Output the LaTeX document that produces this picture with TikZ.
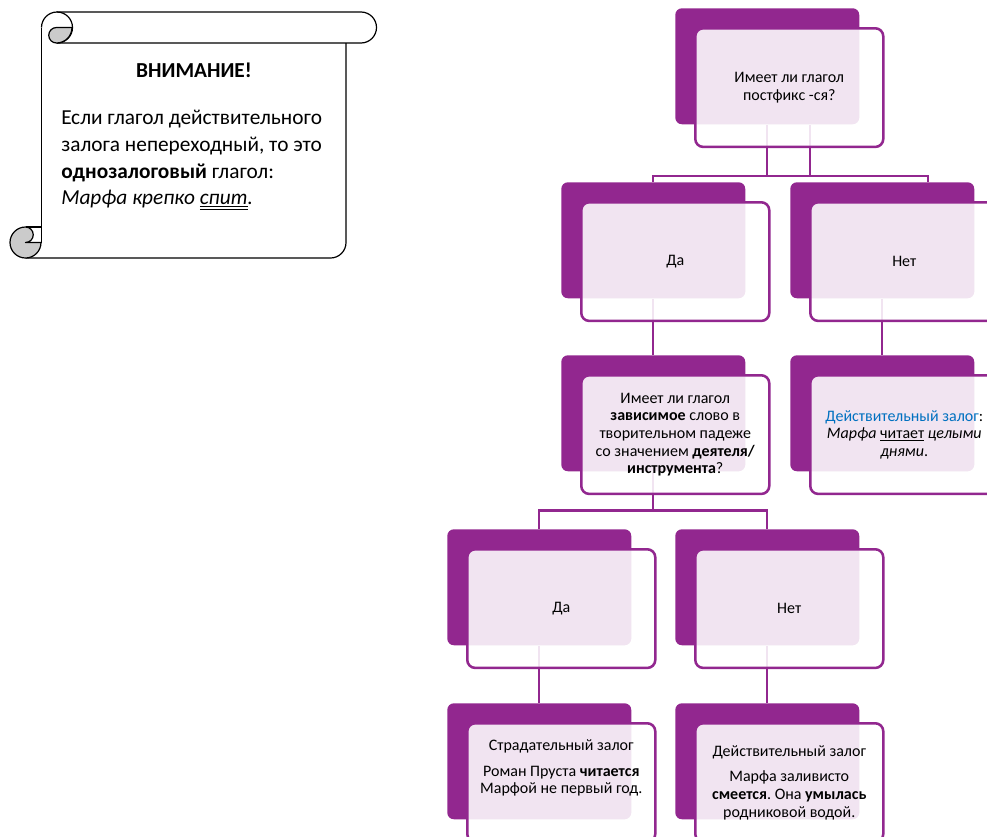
\documentclass[tikz,border=0pt]{standalone}
\usepackage{fontspec}
\setmainfont{Carlito}
\usetikzlibrary{positioning,calc}
\definecolor{plum}{RGB}{146,39,143}
\definecolor{wordblue}{RGB}{0,112,192}
\definecolor{curlgray}{RGB}{203,203,203}
\newcommand\dunder[1]{\underline{\underline{#1}}}
\frenchspacing
\tikzset{
  back/.style={
    shape = rectangle,
    rounded corners = 5pt,
    fill = plum,
    anchor = north west,
    inner sep = 0pt,
    minimum width = 138pt,
    minimum height = 87pt
  },
  card/.style={
    shape = rectangle,
    rounded corners = 6pt,
    draw = plum,
    line width = 1.9pt,
    fill = white,
    fill opacity = 0.88,
    text opacity = 1,
    anchor = north west,
    inner sep = 2pt,
    minimum width = 141pt,
    minimum height = 89pt,
    align = center,
    font = \fontsize{12}{13.2}\selectfont
  },
  cardtext/.style={
    align = center,
    inner sep = 0pt,
    font = \fontsize{12}{13.2}\selectfont
  },
  link/.style={
    draw = plum,
    line width = 1.7pt
  },
  scroll/.style={
    draw = black,
    line width = 0.9pt,
    line join = round
  },
  curl/.style={
    scroll,
    fill = curlgray
  }
}
\begin{document}
\begin{tikzpicture}[x=0.75pt, y=-0.75pt]
        \path[use as bounding box, clip] (0,0) rectangle (987,836);

        % scroll
        \draw[scroll] (56.5,12) -- (361,12) arc (-90:90:15.5) -- (56.5,43);
        \draw[scroll] (41.5,27.5) arc (180:450:15.5);
        \filldraw[curl] (56.5,27.5) -- (72,27.5) arc (0:90:15.5) arc (90:270:7.75) -- cycle;
        \draw[scroll] (41.5,27.5) -- (41.5,242.5);
        \draw[scroll] (346,43) -- (346,242.5) arc (0:90:15.5) -- (25.5,258);
        \filldraw[curl] (25.5,227) arc (270:0:15.5) -- (25.5,242.5) arc (90:-90:7.75) -- cycle;
        \draw[scroll] (25.5,227) -- (41.5,227);

        \node[font=\fontsize{16}{20}\selectfont\bfseries] (warn) at (194,70) {ВНИМАНИЕ!};
        \node[anchor=north west, align=left, inner sep=0pt, font=\fontsize{16}{20}\selectfont] (rule) at (61,110)
            {Если глагол действительного\\ залога непереходный, то это\\ \textbf{однозалоговый} глагол:\\ \textit{Марфа крепко \dunder{спит}.}};

        % back boxes
        \node[back] (pfB) at (675,8) {};
        \node[back] (yesB) at (561,182) {};
        \node[back] (noB) at (790,182) {};
        \node[back] (depB) at (561,355) {};
        \node[back] (actB) at (790,355) {};
        \node[back] (yes2B) at (447,529) {};
        \node[back] (no2B) at (675,529) {};
        \node[back] (passB) at (447,703) {};
        \node[back] (act2B) at (675,703) {};

        % links
        \draw[link] (pfB.south) -- ++(0,52) coordinate (bar1);
        \coordinate (pfdrop) at ([xshift=32pt]pfB.south);
        \draw[link] (pfdrop) -- (pfdrop |- bar1);
        \coordinate (bar1R) at (928,176);
        \draw[link] (yesB.north) |- (bar1R) -- ++(0,6);
        \draw[link] (yesB.south) -- (depB.north);
        \draw[link] (noB.south) -- (actB.north);
        \draw[link] (depB.south) -- ++(0,39) coordinate (bar2);
        \draw[link] (yes2B.north) |- (bar2) -| (no2B.north);
        \draw[link] (yes2B.south) -- (passB.north);
        \draw[link] (no2B.south) -- (act2B.north);

        % cards
        \node[card] (pf) at ([shift={(19,19)}]pfB.north west) {Имеет ли глагол\\ постфикс -ся?};
        \node[card] (yes) at ([shift={(19,19)}]yesB.north west) {Да};
        \node[card] (no) at ([shift={(19,19)}]noB.north west) {Нет};
        \node[card] (dep) at ([shift={(19,19)}]depB.north west)
            {Имеет ли глагол\\ \textbf{зависимое} слово в\\ творительном падеже\\ со значением \textbf{деятеля/}\\ \textbf{инструмента}?};
        \node[card] (act) at ([shift={(19,19)}]actB.north west)
            {{\color{wordblue}Действительный залог}:\\ \textit{Марфа} \underline{читает} \textit{целыми}\\ \textit{днями}.};
        \node[card] (yes2) at ([shift={(19,19)}]yes2B.north west) {Да};
        \node[card] (no2) at ([shift={(19,19)}]no2B.north west) {Нет};
        \node[card] (pass) at ([shift={(19,19)}]passB.north west) {};
        \node[cardtext] (passT) at ([yshift=11pt]pass.center)
            {Страдательный залог\\[6pt] Роман Пруста \textbf{читается}\\ Марфой не первый год.};
        \node[card] (act2) at ([shift={(19,19)}]act2B.north west)
            {Действительный залог\\[6pt] Марфа заливисто\\ \textbf{смеется}. Она \textbf{умылась}\\ родниковой водой.};
\end{tikzpicture}
\end{document}
